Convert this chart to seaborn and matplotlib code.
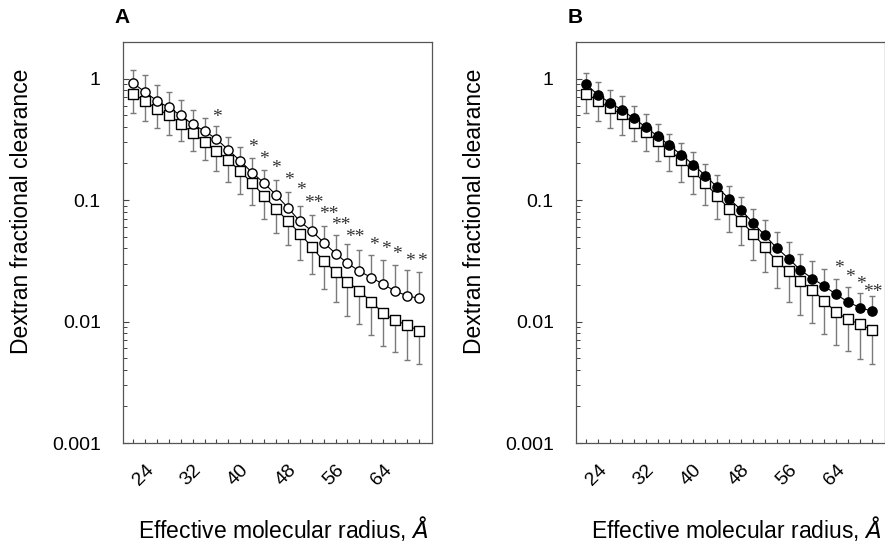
import numpy as np
import pandas as pd
import seaborn as sns
import matplotlib.pyplot as plt
from matplotlib.ticker import FixedLocator, NullFormatter, LogLocator

# DATA
radius = [20, 22, 24, 26, 28, 30, 32, 34, 36, 38, 40, 42, 44, 46, 48,
          50, 52, 54, 56, 58, 60, 62, 64, 66, 68]
tick_labels = [24, 32, 40, 48, 56, 64]

# panel A
ctrl_a = [0.748, 0.655, 0.56, 0.503, 0.425, 0.358, 0.302, 0.252, 0.214, 0.172,
          0.138, 0.108, 0.0844, 0.0673, 0.053, 0.0412, 0.0314, 0.0257, 0.0213,
          0.0178, 0.0146, 0.0117, 0.0102, 0.00938, 0.00838]
ctrl_a_low = [0.52, 0.449, 0.389, 0.343, 0.308, 0.255, 0.214, 0.174, 0.14, 0.113,
              0.0903, 0.0694, 0.054, 0.043, 0.0324, 0.0247, 0.0185, 0.0146, 0.0112,
              0.00963, 0.00777, 0.00631, 0.0056, 0.00484, 0.00447]
treat_a = [0.915, 0.777, 0.655, 0.578, 0.497, 0.42, 0.37, 0.318, 0.258, 0.21,
           0.168, 0.138, 0.11, 0.0865, 0.0668, 0.0557, 0.0447, 0.0363, 0.0302,
           0.026, 0.023, 0.0203, 0.0178, 0.0163, 0.0155]
treat_a_high = [1.176, 1.07, 0.886, 0.782, 0.668, 0.553, 0.475, 0.404, 0.332, 0.275,
                0.221, 0.177, 0.147, 0.116, 0.0893, 0.0748, 0.0612, 0.0513, 0.0433,
                0.0386, 0.0351, 0.032, 0.0291, 0.0267, 0.0257]
stars_a_x = [34.0, 40.1, 42.0, 44.0, 46.2, 48.1, 50.4, 52.8, 54.8, 57.3,
             60.5, 62.5, 64.3, 66.5, 68.5]
stars_a_y = [0.532, 0.302, 0.238, 0.201, 0.162, 0.132, 0.1045, 0.0841, 0.069, 0.0548,
             0.0468, 0.0434, 0.0395, 0.0348, 0.0348]
stars_a_label = ['*', '*', '*', '*', '*', '*', '**', '**', '**', '**',
                 '*', '*', '*', '*', '*']

# panel B
ctrl_b = [0.753, 0.655, 0.571, 0.51, 0.43, 0.363, 0.305, 0.254, 0.215, 0.172,
          0.138, 0.108, 0.0849, 0.0673, 0.053, 0.0412, 0.0314, 0.026, 0.0215,
          0.0182, 0.0148, 0.0119, 0.0104, 0.0095, 0.00854]
ctrl_b_low = [0.52, 0.449, 0.389, 0.343, 0.308, 0.255, 0.211, 0.173, 0.14, 0.113,
              0.0903, 0.0694, 0.0547, 0.043, 0.0324, 0.0254, 0.0188, 0.0146, 0.0113,
              0.0098, 0.00787, 0.00643, 0.00567, 0.00493, 0.00449]
treat_b = [0.898, 0.734, 0.631, 0.553, 0.47, 0.399, 0.336, 0.282, 0.235, 0.196,
           0.159, 0.128, 0.1025, 0.0833, 0.0652, 0.0513, 0.0404, 0.033, 0.0265,
           0.0226, 0.0196, 0.0167, 0.0145, 0.013, 0.0122]
treat_b_high = [1.12, 0.945, 0.807, 0.72, 0.597, 0.507, 0.422, 0.35, 0.293, 0.247,
                0.199, 0.161, 0.13, 0.106, 0.0849, 0.068, 0.0547, 0.0453, 0.0363,
                0.0314, 0.0269, 0.0226, 0.0194, 0.0173, 0.0163]
stars_b_x = [62.4, 64.3, 66.2, 68.2]
stars_b_y = [0.0306, 0.0257, 0.0226, 0.0194]
stars_b_label = ['*', '*', '*', '**']

sns.set_style('ticks')
plt.rcParams['font.family'] = ['Liberation Sans', 'DejaVu Sans']
for k in ['text.color', 'axes.labelcolor', 'xtick.color', 'ytick.color']:
    plt.rcParams[k] = 'black'

fig = plt.figure(figsize=(8.85, 5.45), dpi=100)
W, H = 885, 545
ax_a = fig.add_axes([123 / W, 1 - 443 / H, 309 / W, 401 / H])
ax_b = fig.add_axes([576 / W, 1 - 443 / H, 309 / W, 401 / H])

err_col = '#7a7a7a'


def draw_panel(ax, ctrl, ctrl_low, treat, treat_high, stars_x, stars_y, stars_label,
               filled, letter):
    df = pd.DataFrame({'radius': radius * 2,
                       'clearance': ctrl + treat,
                       'group': ['control'] * len(radius) + ['treated'] * len(radius)})
    # one-sided error bars: down for control, up for treated
    ax.errorbar(radius, ctrl, yerr=[np.array(ctrl) - np.array(ctrl_low), np.zeros(len(ctrl))],
                fmt='none', ecolor=err_col, elinewidth=1, capsize=2.5, capthick=1, zorder=1)
    ax.errorbar(radius, treat, yerr=[np.zeros(len(treat)), np.array(treat_high) - np.array(treat)],
                fmt='none', ecolor=err_col, elinewidth=1, capsize=2.5, capthick=1, zorder=1)
    sns.lineplot(data=df, x='radius', y='clearance', units='group', estimator=None,
                 color='black', linewidth=0.8, ax=ax, zorder=2, legend=False)
    sns.scatterplot(data=df[df.group == 'control'], x='radius', y='clearance', marker='s',
                    s=46, facecolor='white', edgecolor='black', linewidth=1, ax=ax, zorder=3)
    sns.scatterplot(data=df[df.group == 'treated'], x='radius', y='clearance', marker='o',
                    s=44, facecolor='black' if filled else 'white', edgecolor='black',
                    linewidth=1, ax=ax, zorder=4)
    for sx, sy, lab in zip(stars_x, stars_y, stars_label):
        ax.annotate(lab, (sx, sy), xytext=(0, -4), textcoords='offset points',
                    ha='center', va='center', fontsize=14, family='Liberation Serif',
                    color='#333333')

    ax.set_yscale('log')
    ax.set_ylim(0.001, 2.0)
    ax.set_xlim(18.3, 70.2)
    ax.yaxis.set_major_locator(FixedLocator([0.001, 0.01, 0.1, 1]))
    ax.yaxis.set_minor_locator(LogLocator(base=10, subs=np.arange(2, 10)))
    ax.yaxis.set_minor_formatter(NullFormatter())
    ax.set_yticklabels(['0.001', '0.01', '0.1', '1'])
    ax.xaxis.set_minor_locator(FixedLocator(radius))
    ax.set_xticks(tick_labels)
    ax.set_xticklabels([str(t) for t in tick_labels], rotation=45, ha='right', va='top')
    ax.tick_params(axis='x', which='both', direction='in', length=3, width=0.8,
                   color='#444444', labelsize=14, pad=13)
    ax.tick_params(axis='y', which='major', direction='in', length=4, width=0.8,
                   color='#444444', labelsize=14, pad=16)
    ax.tick_params(axis='y', which='minor', direction='in', length=3, width=0.7,
                   color='#444444')
    for sp in ax.spines.values():
        sp.set_visible(True)
        sp.set_color('#555555')
        sp.set_linewidth(0.9)
    ax.set_xlabel('Effective molecular radius, $\\it{\\AA}$', fontsize=16.5)
    ax.set_ylabel('Dextran fractional clearance', fontsize=16.5)
    ax.xaxis.set_label_coords(0.52, -0.178)
    ax.yaxis.set_label_coords(-0.291, 0.577)
    ax.text(-0.028, 1.038, letter, transform=ax.transAxes, fontsize=15,
            fontweight='bold', ha='left', va='bottom')


draw_panel(ax_a, ctrl_a, ctrl_a_low, treat_a, treat_a_high,
           stars_a_x, stars_a_y, stars_a_label, False, 'A')
draw_panel(ax_b, ctrl_b, ctrl_b_low, treat_b, treat_b_high,
           stars_b_x, stars_b_y, stars_b_label, True, 'B')

fig.savefig('out.png', dpi=100)
